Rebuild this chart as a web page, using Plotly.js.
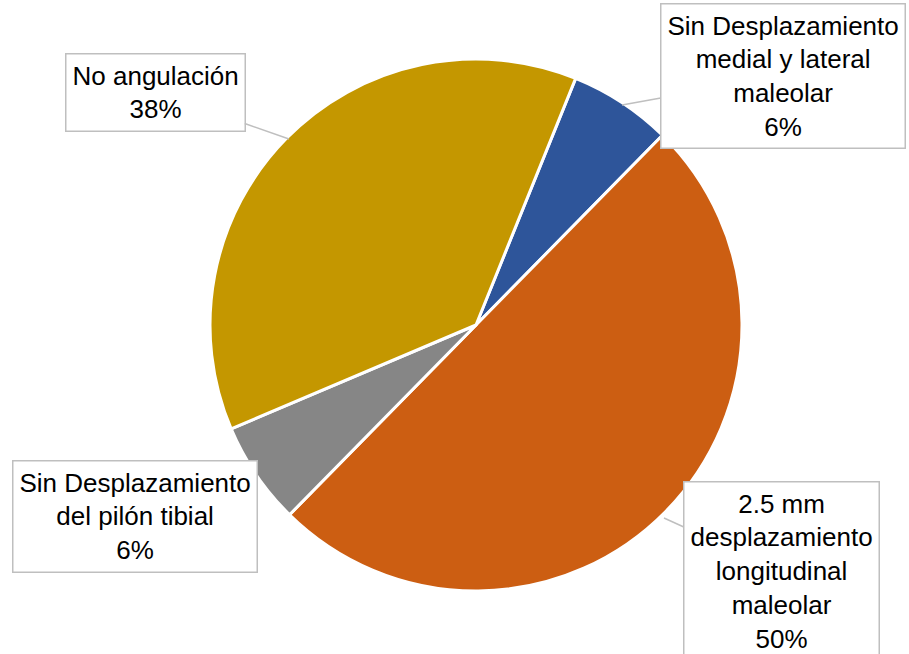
<!DOCTYPE html>
<html>
<head>
<meta charset="utf-8">
<script src="https://cdn.plot.ly/plotly-3.0.1.min.js"></script>
<style>html,body{margin:0;padding:0;background:#fff;}#chart{width:909px;height:654px;}</style>
</head>
<body>
<div id="chart"></div>
<script>
// Data
const categories = [
  "Sin Desplazamiento<br>medial y lateral<br>maleolar",
  "2.5 mm<br>desplazamiento<br>longitudinal<br>maleolar",
  "Sin Desplazamiento<br>del pilón tibial",
  "No angulación"
];
const values = [1, 8, 1, 6];
const colors = ["#2e559a", "#cc5e12", "#868686", "#c49700"];

// Layout helpers (pixel positions of label boxes and pointer tips)
const W = 909, H = 654;
const labelLayout = [
  {tip: [622, 105], box: [783, 76], arrow: true},
  {tip: [664, 518], box: [781, 571], arrow: true},
  {tip: [280, 516], box: [135, 516], arrow: false},
  {tip: [289, 139], box: [155, 92], arrow: true}
];

const total = values.reduce((a, b) => a + b, 0);
const annotations = categories.map((c, i) => {
  const pct = Math.round(values[i] / total * 100);
  const L = labelLayout[i];
  const a = {
    text: c + "<br>" + pct + "%",
    xref: "paper", yref: "paper",
    font: {family: "Liberation Sans, Arial, sans-serif", size: 26, color: "#000"},
    bgcolor: "#ffffff",
    bordercolor: "#bfbfbf",
    borderwidth: 1.5,
    borderpad: 6,
    align: "center"
  };
  if (L.arrow) {
    a.x = L.tip[0] / W; a.y = 1 - L.tip[1] / H;
    a.showarrow = true; a.arrowhead = 0; a.arrowwidth = 1.5; a.arrowcolor = "#bfbfbf";
    a.ax = L.box[0] - L.tip[0]; a.ay = L.box[1] - L.tip[1];
  } else {
    a.x = L.box[0] / W; a.y = 1 - L.box[1] / H;
    a.xanchor = "center"; a.yanchor = "middle";
    a.showarrow = false;
  }
  return a;
});

const cx = 476, cy = 325, r = 266;
const trace = {
  type: "pie",
  labels: categories,
  values: values,
  sort: false,
  direction: "clockwise",
  rotation: 22,
  textinfo: "none",
  hoverinfo: "label+percent",
  marker: {colors: colors, line: {color: "#ffffff", width: 3}},
  domain: {x: [(cx - r) / W, (cx + r) / W], y: [1 - (cy + r) / H, 1 - (cy - r) / H]}
};

const layout = {
  width: W, height: H,
  margin: {l: 0, r: 0, t: 0, b: 0},
  showlegend: false,
  paper_bgcolor: "#ffffff",
  annotations: annotations
};

Plotly.newPlot("chart", [trace], layout, {displayModeBar: false, staticPlot: true});
</script>
</body>
</html>
